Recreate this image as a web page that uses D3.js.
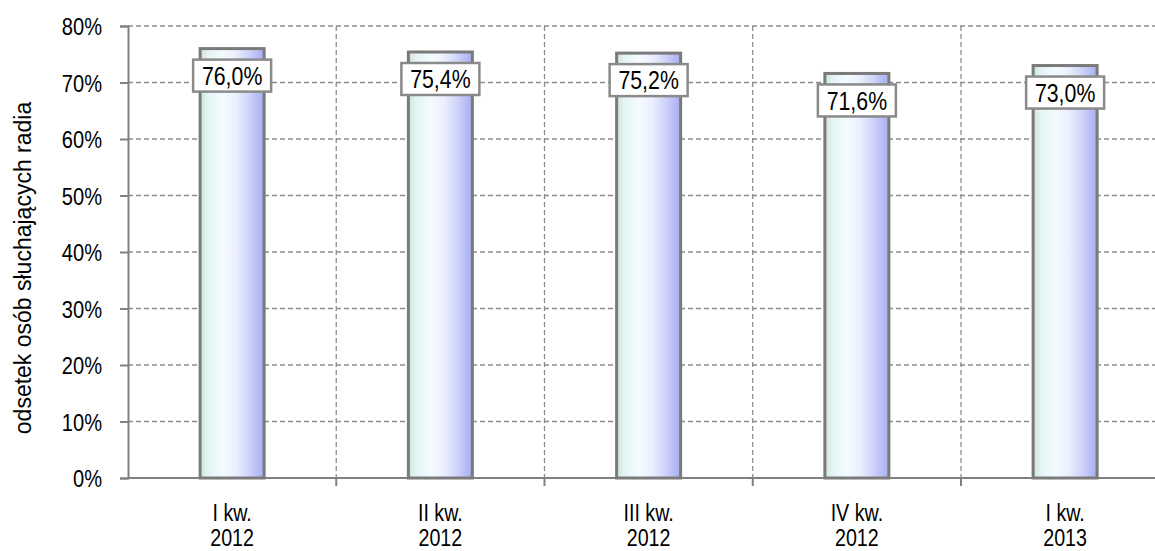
<!DOCTYPE html>
<html>
<head>
<meta charset="utf-8">
<script src="https://cdn.jsdelivr.net/npm/d3@7"></script>
<style>
  body { margin: 0; background: #fff; }
  svg text { font-family: "Liberation Sans", Arial, sans-serif; fill: #000; }
</style>
</head>
<body>
<div class="canvas"></div>
<script>
const categories = [["I kw.", "2012"], ["II kw.", "2012"], ["III kw.", "2012"], ["IV kw.", "2012"], ["I kw.", "2013"]];
const values = [76.0, 75.4, 75.2, 71.6, 73.0];
const yTicks = [0, 10, 20, 30, 40, 50, 60, 70, 80];
const yTitle = "odsetek osób słuchających radia";

const
    width = 1155,
    height = 551,
    plotLeft = 128,
    plotTop = 26,
    plotBottom = 478,
    band = 208.25,
    squeeze = 0.82;   // narrow look (Arial Narrow not installed)

const svg = d3.select('.canvas').append("svg")
    .attr('width', width)
    .attr('height', height);

const x = d3.scaleBand()
    .domain(d3.range(categories.length))
    .range([plotLeft, plotLeft + band * categories.length])
    .paddingInner(0)
    .paddingOuter(0);
const y = d3.scaleLinear()
    .domain([0, 80])
    .range([plotBottom, plotTop]);

const grad = svg.append("defs").append("linearGradient")
    .attr("id", "barGrad")
    .attr("x1", "0%").attr("x2", "100%").attr("y1", "0%").attr("y2", "0%");
[["0%", "#cfe3de"], ["12%", "#e4f4f4"], ["35%", "#f4fbff"], ["55%", "#eceffe"], ["75%", "#d0d5fa"], ["100%", "#a6adee"]]
    .forEach(s => grad.append("stop").attr("offset", s[0]).attr("stop-color", s[1]));

// horizontal grid
svg.append("g").selectAll("line")
    .data(yTicks.filter(d => d > 0))
    .enter().append("line")
    .attr("x1", plotLeft).attr("x2", width)
    .attr("y1", d => y(d)).attr("y2", d => y(d))
    .attr("stroke", "#8c8c8c").attr("stroke-width", 1.3)
    .attr("stroke-dasharray", "5,3");

// vertical grid at category boundaries
svg.append("g").selectAll("line")
    .data(d3.range(1, categories.length + 1))
    .enter().append("line")
    .attr("x1", d => plotLeft + band * d).attr("x2", d => plotLeft + band * d)
    .attr("y1", plotTop).attr("y2", plotBottom)
    .attr("stroke", "#8c8c8c").attr("stroke-width", 1.3)
    .attr("stroke-dasharray", "5,3");

// y axis
const yAxis = svg.append("g")
    .attr("transform", `translate(${plotLeft},0)`)
    .call(d3.axisLeft(y).tickValues(yTicks).tickFormat(d => d + "%").tickSize(8).tickPadding(26));
yAxis.select(".domain").attr("stroke", "#808080").attr("stroke-width", 2);
yAxis.selectAll(".tick line").attr("stroke", "#808080").attr("stroke-width", 2);
yAxis.selectAll(".tick text")
    .attr("font-size", 24.5)
    .attr("x", 0)
    .attr("dy", "0.35em")
    .attr("transform", `translate(-26,0) scale(${squeeze},1)`);

// x axis line + ticks
svg.append("line")
    .attr("x1", plotLeft).attr("x2", width)
    .attr("y1", plotBottom).attr("y2", plotBottom)
    .attr("stroke", "#808080").attr("stroke-width", 2);
svg.append("g").selectAll("line")
    .data(d3.range(1, categories.length + 1))
    .enter().append("line")
    .attr("x1", d => plotLeft + band * d).attr("x2", d => plotLeft + band * d)
    .attr("y1", plotBottom).attr("y2", plotBottom + 8)
    .attr("stroke", "#808080").attr("stroke-width", 2);

// x labels
const xl = svg.append("g").selectAll("text")
    .data(categories)
    .enter().append("text")
    .attr("text-anchor", "middle")
    .attr("font-size", 24)
    .attr("transform", (d, i) => `translate(${x(i) + x.bandwidth() / 2},0) scale(${squeeze},1)`);
xl.append("tspan").attr("x", 0).attr("y", 521).text(d => d[0]);
xl.append("tspan").attr("x", 0).attr("y", 546).text(d => d[1]);

// bars
const barW = 64;
svg.append("g").selectAll("rect")
    .data(values)
    .enter().append("rect")
    .attr("x", (d, i) => x(i) + x.bandwidth() / 2 - barW / 2)
    .attr("y", d => y(d))
    .attr("width", barW)
    .attr("height", d => y(0) - y(d))
    .attr("fill", "url(#barGrad)")
    .attr("stroke", "#7a7a7a")
    .attr("stroke-width", 3);

// value labels
const lab = svg.append("g").selectAll("g")
    .data(values)
    .enter().append("g")
    .attr("transform", (d, i) => `translate(${x(i) + x.bandwidth() / 2},${y(d) + 27})`);
lab.append("rect")
    .attr("x", -39).attr("y", -16)
    .attr("width", 78).attr("height", 32)
    .attr("fill", "#fff")
    .attr("stroke", "#8a8a8a").attr("stroke-width", 2.5);
lab.append("text")
    .attr("text-anchor", "middle")
    .attr("dy", "0.36em")
    .attr("font-size", 26)
    .attr("transform", `scale(${squeeze},1)`)
    .text(d => d.toFixed(1).replace(".", ",") + "%");

// y title
svg.append("text")
    .attr("transform", "translate(31,268) rotate(-90)")
    .attr("text-anchor", "middle")
    .attr("font-size", 23)
    .text(yTitle);
</script>
</body>
</html>
